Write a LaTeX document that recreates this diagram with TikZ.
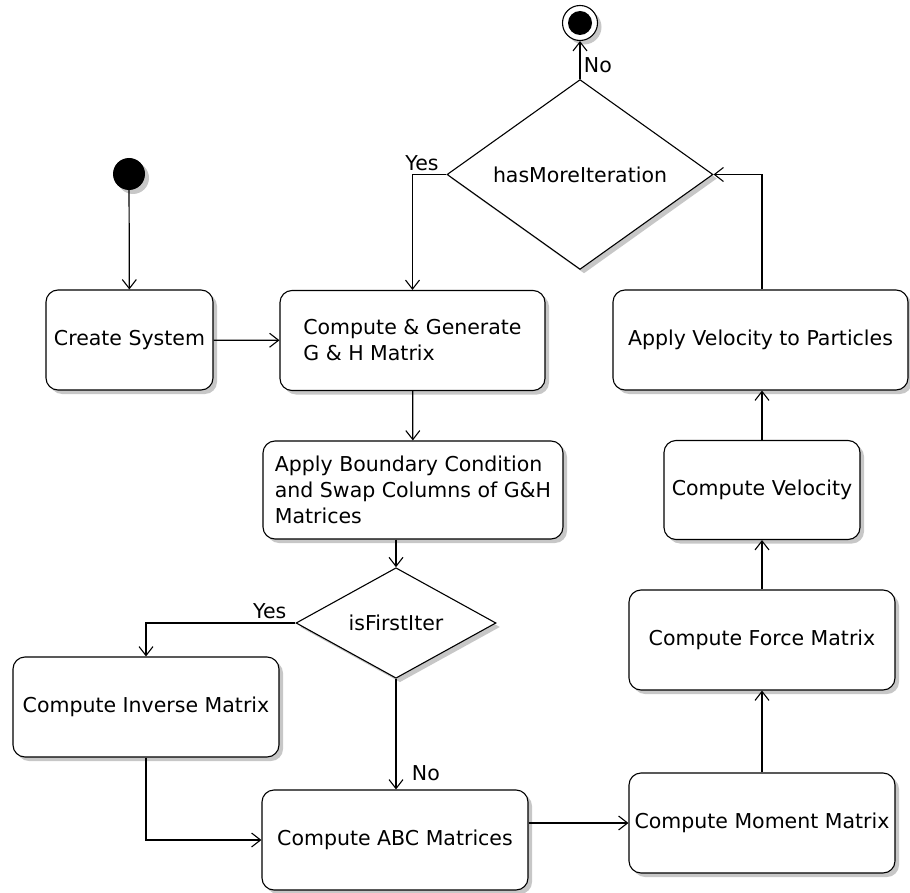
\documentclass[tikz,border=0pt]{standalone}
\usepackage{fontspec}
\setmainfont{DejaVu Sans}
\usepackage{tikz}
\usetikzlibrary{shapes.geometric,arrows.meta,shadows,positioning}
\tikzset{%
  shade box/.style={drop shadow={shadow xshift=4pt, shadow yshift=-4pt, fill=black!22, opacity=1}},
  activity/.style={draw, fill=white, rounded corners=12pt, line width=1.1pt, align=left,
    inner sep=0pt, minimum height=100pt, shade box},
  decision/.style={draw, fill=white, diamond, line width=1.1pt, inner sep=0pt, shade box},
  start state/.style={circle, fill=black, minimum size=32pt, inner sep=0pt, shade box},
  end state/.style={circle, draw, fill=white, line width=1.1pt, minimum size=35pt, inner sep=0pt, shade box},
  flow/.style={draw, line width=1.2pt, -{Straight Barb[length=9pt,width=14pt,line width=1.1pt]}},
  guard/.style={font=\fontsize{20.5}{26}\selectfont}
}

\begin{document}
\begin{tikzpicture}[x=1pt, y=-1pt, font=\fontsize{20.5}{26}\selectfont]

  \useasboundingbox (0,0) rectangle (910,893);

  \node[start state] (start) at (129,174) {};
  \node[end state] (stop) at (580,23) {};
  \fill (stop.center) circle [radius=12pt];

  \node[activity, minimum width=167pt] (create) at (129.5,340) {Create System};
  \node[activity, minimum width=265pt] (compgen) at (412.5,340.5) {Compute \& Generate\\G \& H Matrix};
  \node[activity, minimum width=300pt, minimum height=98pt] (boundary) at (413,490)
    {Apply Boundary Condition\\and Swap Columns of G\&H\\Matrices};
  \node[decision, minimum width=200pt, minimum height=101pt] (isfirst) at (396,623) {isFirstIter};
  \node[activity, minimum width=266pt] (inverse) at (146,707) {Compute Inverse Matrix};
  \node[activity, minimum width=266pt] (abc) at (395,840) {Compute ABC Matrices};
  \node[activity, minimum width=266pt] (moment) at (762,823) {Compute Moment Matrix};
  \node[activity, minimum width=266pt] (force) at (762,640) {Compute Force Matrix};
  \node[activity, minimum width=196pt, minimum height=99pt] (velocity) at (762,490) {Compute Velocity};
  \node[activity, minimum width=295pt] (apply) at (760.5,340) {Apply Velocity to Particles};
  \node[decision, minimum width=266pt, minimum height=165pt] (hasmore) at (580,174.5) {hasMoreIteration};

  \draw[flow] (start) -- (create);
  \draw[flow] (create) -- (compgen);
  \draw[flow] (compgen) -- (boundary);
  \draw[flow] (isfirst.north |- boundary.south) -- (isfirst.north);
  \draw[flow] (isfirst.west) -| node[guard, pos=0.086, above] {Yes} (inverse.north);
  \draw[flow] (isfirst.south) -- node[guard, pos=0.85, right, xshift=12pt] {No} (isfirst.south |- abc.north);
  \draw[flow] (inverse.south) |- (abc.west);
  \draw[flow] (abc.east |- moment.west) -- (moment.west);
  \draw[flow] (moment) -- (force);
  \draw[flow] (force) -- (velocity);
  \draw[flow] (velocity.north) -- (velocity.north |- apply.south);
  \draw[flow] (velocity.north |- apply.north) |- (hasmore.east);
  \draw[flow] (hasmore.west) -| node[guard, pos=0.36, above] {Yes} (compgen.north);
  \draw[flow] (hasmore.north) -- node[guard, pos=0.37, right] {No} (stop.south);

\end{tikzpicture}
\end{document}
